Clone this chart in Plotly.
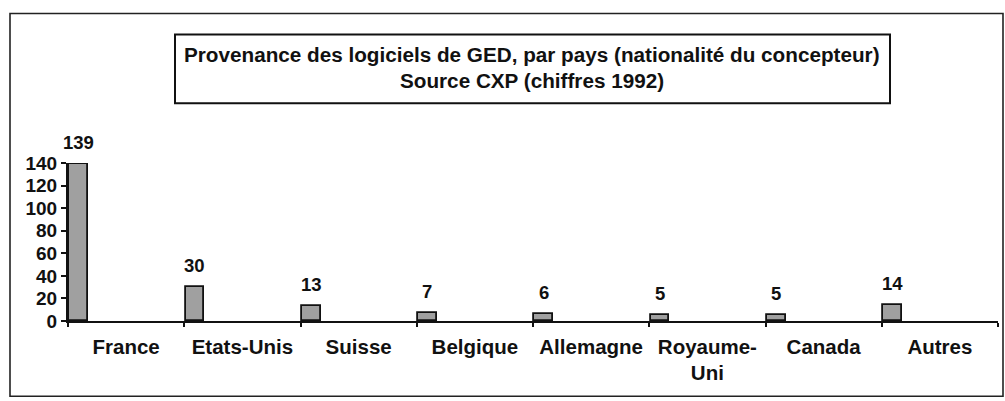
import plotly.graph_objects as go

categories = ["France", "Etats-Unis", "Suisse", "Belgique", "Allemagne",
              "Royaume-Uni", "Canada", "Autres"]
tick_labels = ["France", "Etats-Unis", "Suisse", "Belgique", "Allemagne",
               "Royaume-<br>Uni", "Canada", "Autres"]
values = [139, 30, 13, 7, 6, 5, 5, 14]
y_ticks = [0, 20, 40, 60, 80, 100, 120, 140]
title_lines = ["Provenance des logiciels de GED, par pays (nationalité du concepteur)",
               "Source CXP (chiffres 1992)"]

FONT = "Liberation Sans, Arial, sans-serif"
slots = list(range(len(categories)))
bar_offset = 0.012
bar_width = 0.16

fig = go.Figure()
fig.add_trace(go.Bar(
    x=slots, y=values, offset=bar_offset, width=bar_width,
    marker=dict(color="#a0a0a0", line=dict(color="#111111", width=1.8)),
    hoverinfo="skip", showlegend=False,
))

for i, v in zip(slots, values):
    fig.add_annotation(
        x=i + bar_offset + bar_width / 2, y=v, xref="x", yref="y",
        text=str(v), showarrow=False, yanchor="bottom", yshift=9,
        font=dict(family=FONT, size=18.5, color="#111111", weight="bold"),
    )

# plot area: x 68..998, y 163..321.5 (pixels)
def px_x(p):
    return (p - 68) / 930.0

def px_y(p):
    return (321.5 - p) / 158.5

# outer frame
fig.add_shape(type="rect", xref="paper", yref="paper",
              x0=px_x(10), x1=px_x(1003), y0=px_y(397), y1=px_y(13),
              line=dict(color="#222222", width=1.6), layer="below")
# title box
fig.add_shape(type="rect", xref="paper", yref="paper",
              x0=px_x(175), x1=px_x(890), y0=px_y(103), y1=px_y(34),
              line=dict(color="#111111", width=2), fillcolor="white", layer="below")

# title lines
for line, ypx in zip(title_lines, [54, 80]):
    fig.add_annotation(
        x=px_x(532), y=px_y(ypx), xref="paper", yref="paper",
        xanchor="center", yanchor="middle", showarrow=False, text=line,
        font=dict(family=FONT, size=20.7, color="#111111", weight="bold"),
    )

fig.update_layout(
    width=1005, height=401, autosize=False,
    margin=dict(l=68, r=7, t=163, b=80, pad=0, autoexpand=False),
    paper_bgcolor="white", plot_bgcolor="white",
    font=dict(family=FONT, color="#111111"),
    bargap=0,
)

fig.update_xaxes(
    range=[0, len(categories)], tickmode="array",
    tickvals=[i + 0.5 for i in slots], ticktext=tick_labels,
    ticks="", showgrid=False, zeroline=False, automargin=False,
    showline=True, linecolor="#111111", linewidth=2,
    tickangle=0,
    tickfont=dict(family=FONT, size=20.5, color="#111111", weight="bold"),
    ticklabelstandoff=6,
    minor=dict(tick0=0, dtick=1, ticks="outside", ticklen=4,
               tickcolor="#111111", tickwidth=1.5, showgrid=False),
    fixedrange=True,
)
fig.update_yaxes(
    range=[0, 140], tickmode="array", tickvals=y_ticks,
    ticktext=[str(t) for t in y_ticks], automargin=False,
    ticks="outside", ticklen=5, tickwidth=1.5, tickcolor="#111111",
    showgrid=False, zeroline=False,
    showline=True, linecolor="#111111", linewidth=2,
    tickfont=dict(family=FONT, size=19, color="#111111", weight="bold"),
    fixedrange=True,
)

fig.write_html("out.html", config={"displayModeBar": False},
               post_script="document.body.style.margin='0';"
                           "document.body.style.overflow='hidden';")
